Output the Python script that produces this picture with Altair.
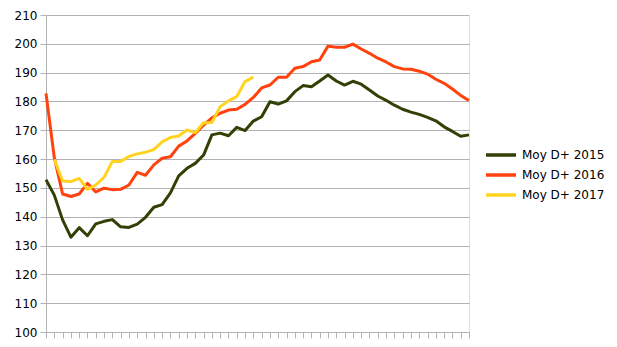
import altair as alt
import pandas as pd

series_names = ["Moy D+ 2015", "Moy D+ 2016", "Moy D+ 2017"]
colors = ["#314004", "#ff420e", "#ffd320"]

y2015 = [152.8, 147.5, 138.9, 132.9, 136.2, 133.4, 137.5, 138.4, 139.0, 136.5,
         136.3, 137.4, 139.8, 143.3, 144.2, 148.3, 154.2, 156.8, 158.5, 161.4,
         168.4, 169.0, 168.1, 171.0, 169.9, 173.2, 174.7, 179.9, 179.1, 180.2,
         183.4, 185.5, 185.1, 187.1, 189.2, 187.1, 185.7, 187.0, 186.0, 184.0,
         181.9, 180.4, 178.7, 177.3, 176.3, 175.5, 174.5, 173.3, 171.2, 169.6,
         167.9, 168.4]
y2016 = [182.8, 160.5, 147.9, 147.0, 147.9, 151.6, 148.6, 149.9, 149.4, 149.5,
         151.0, 155.4, 154.4, 158.0, 160.3, 160.8, 164.5, 166.3, 168.9, 171.8,
         174.3, 175.9, 177.0, 177.3, 179.0, 181.4, 184.7, 185.7, 188.4, 188.4,
         191.5, 192.1, 193.8, 194.4, 199.2, 198.8, 198.8, 199.9, 198.2, 196.7,
         195.0, 193.7, 192.1, 191.3, 191.2, 190.5, 189.5, 187.7, 186.3, 184.3,
         182.1, 180.3]
y2017 = [None, 159.9, 152.4, 152.2, 153.3, 149.5, 151.0, 153.7, 159.2, 159.2,
         160.9, 161.8, 162.4, 163.3, 166.0, 167.5, 168.0, 170.1, 169.2, 172.6,
         172.7, 178.2, 180.2, 181.7, 186.9, 188.5]

rows = []
for name, vals in zip(series_names, [y2015, y2016, y2017]):
    for i, v in enumerate(vals):
        if v is not None:
            rows.append({"week": i, "value": v, "series": name})
df = pd.DataFrame(rows)

font = "DejaVu Sans"

chart = alt.Chart(df).mark_line(strokeWidth=3, strokeJoin="round").encode(
    x=alt.X("week:Q",
            scale=alt.Scale(domain=[0, 51], nice=False, zero=False),
            axis=alt.Axis(title=None, labels=False, grid=False,
                          values=list(range(52)), tickSize=6,
                          tickColor="#b3b3b3", domainColor="#b3b3b3",
                          tickWidth=1, domainWidth=1)),
    y=alt.Y("value:Q",
            scale=alt.Scale(domain=[100, 210], nice=False, zero=False),
            axis=alt.Axis(title=None, values=list(range(100, 211, 10)),
                          gridColor="#b3b3b3", gridWidth=1,
                          domainColor="#b3b3b3", tickColor="#b3b3b3",
                          tickSize=6, labelFont=font, labelFontSize=12,
                          labelColor="#000000", labelPadding=3)),
    color=alt.Color("series:N",
                    scale=alt.Scale(domain=series_names, range=colors),
                    legend=alt.Legend(title=None, orient="none",
                                      legendX=458, legendY=133,
                                      symbolType="M-5,0H1",
                                      symbolStrokeWidth=3.5,
                                      symbolSize=100,
                                      labelFont=font, labelFontSize=12,
                                      labelColor="#000000",
                                      labelOffset=4, rowPadding=6)),
    detail="series:N",
).properties(
    width=423,
    height=317,
    autosize=alt.AutoSizeParams(type="none"),
    padding={"left": 46, "top": 15, "right": 148, "bottom": 15},
).configure_view(
    stroke="#b3b3b3", strokeWidth=1
).configure(background="#ffffff")

chart.save("out.html", embed_options={"renderer": "svg", "actions": False})
